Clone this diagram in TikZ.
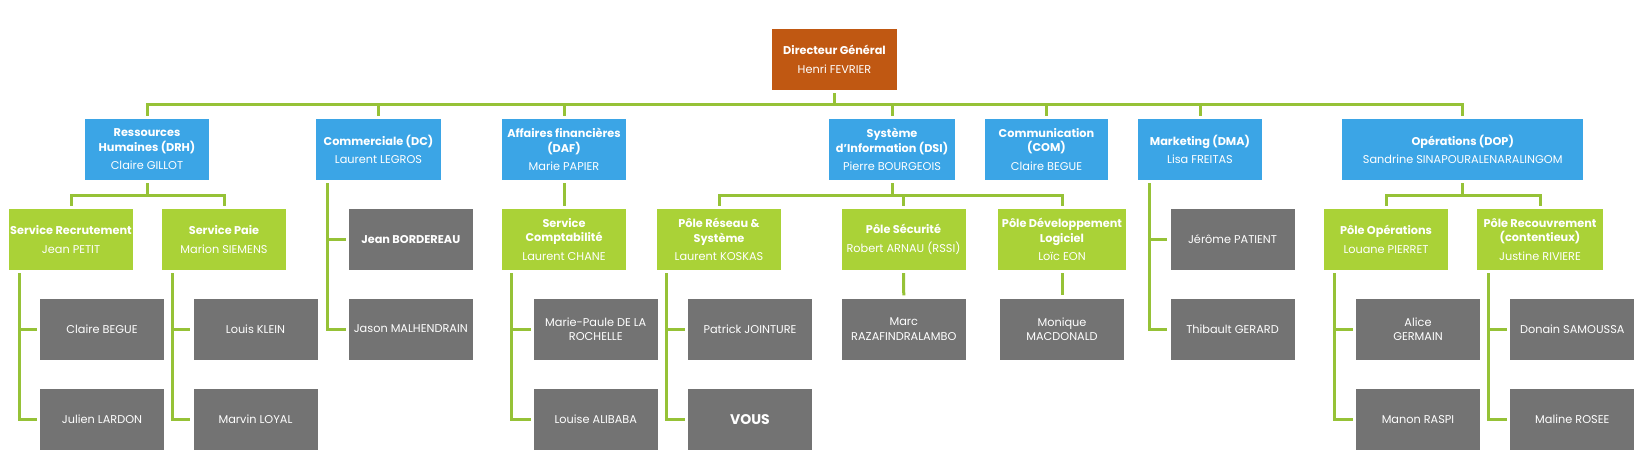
\documentclass[tikz,border=0pt]{standalone}
\usepackage{fontspec}
\setmainfont{Poppins}
\definecolor{corange}{RGB}{192,88,18}
\definecolor{cblue}{RGB}{59,165,230}
\definecolor{cgreen}{RGB}{170,210,55}
\definecolor{cgray}{RGB}{115,115,115}
\definecolor{cline}{RGB}{150,194,55}
\begin{document}
\begin{tikzpicture}[x=1pt,y=-1pt,
  box/.style={rectangle, inner sep=0pt, minimum height=61pt, minimum width=124pt, text=white, align=center, font=\fontsize{11.3}{14.5}\selectfont},
  topbox/.style={box, fill=corange, minimum width=125pt},
  dirbox/.style={box, fill=cblue},
  svcbox/.style={box, fill=cgreen},
  perbox/.style={box, fill=cgray},
  conn/.style={draw=cline, line width=3pt, shorten <=3pt, shorten >=3pt}
]
\useasboundingbox (0,0) rectangle (1642,463);
\newcommand\ttl[1]{\textbf{#1}}
% level 0
\node[topbox] (dg) at (834.5,59.5) {\ttl{Directeur Général}\\[5pt]Henri FEVRIER};
% level 1
\node[dirbox] (drh) at (147,149.5) {\ttl{Ressources}\\\ttl{Humaines (DRH)}\\[4pt]Claire GILLOT};
\node[dirbox, minimum width=125pt] (dc) at (378.5,149.5) {\ttl{Commerciale (DC)}\\[4pt]Laurent LEGROS};
\node[dirbox] (daf) at (564,149.5) {\ttl{Affaires financières}\\\ttl{(DAF)}\\[4pt]Marie PAPIER};
\node[dirbox, minimum width=126pt] (dsi) at (892,149.5) {\ttl{Système}\\\ttl{d'Information (DSI)}\\[4pt]Pierre BOURGEOIS};
\node[dirbox, minimum width=123pt] (com) at (1046.5,149.5) {\ttl{Communication}\\\ttl{(COM)}\\[4pt]Claire BEGUE};
\node[dirbox] (mkt) at (1200,149.5) {\ttl{Marketing (DMA)}\\[4pt]Lisa FREITAS};
\node[dirbox, minimum width=241.5pt] (ops) at (1462.7,149.5) {\ttl{Opérations (DOP)}\\[4pt]Sandrine SINAPOURALENARALINGOM};
% level 2
\node[svcbox] (srec) at (71,239.5) {\ttl{Service Recrutement}\\[4pt]Jean PETIT};
\node[svcbox] (spaie) at (224,239.5) {\ttl{Service Paie}\\[4pt]Marion SIEMENS};
\node[perbox] (jean) at (410.75,239.5) {\ttl{Jean BORDEREAU}};
\node[svcbox] (scompta) at (564,239.5) {\ttl{Service}\\\ttl{Comptabilité}\\[4pt]Laurent CHANE};
\node[svcbox] (preseau) at (719,239.5) {\ttl{Pôle Réseau \&}\\\ttl{Système}\\[4pt]Laurent KOSKAS};
\node[svcbox] (psecu) at (903.5,239.5) {\ttl{Pôle Sécurité}\\[4pt]Robert ARNAU (RSSI)};
\node[svcbox, minimum width=128pt] (pdev) at (1062,239.5) {\ttl{Pôle Développement}\\\ttl{Logiciel}\\[4pt]Loïc EON};
\node[perbox] (jerome) at (1232.5,239.5) {Jérôme PATIENT};
\node[svcbox] (pops) at (1386,239.5) {\ttl{Pôle Opérations}\\[4pt]Louane PIERRET};
\node[svcbox, minimum width=126pt] (precouv) at (1540,239.5) {\ttl{Pôle Recouvrement}\\\ttl{(contentieux)}\\[4pt]Justine RIVIERE};
% level 3
\node[perbox] (cbegue) at (102,329) {Claire BEGUE};
\node[perbox] (lklein) at (255.5,329) {Louis KLEIN};
\node[perbox] (jason) at (410.75,329) {Jason MALHENDRAIN};
\node[perbox] (mpaule) at (595.8,329) {Marie-Paule DE LA\\ROCHELLE};
\node[perbox] (patrick) at (750,329) {Patrick JOINTURE};
\node[perbox] (marc) at (903.8,329) {Marc\\RAZAFINDRALAMBO};
\node[perbox] (monique) at (1062,329) {Monique\\MACDONALD};
\node[perbox] (thibault) at (1232.5,329) {Thibault GERARD};
\node[perbox] (alice) at (1418,329) {Alice\\GERMAIN};
\node[perbox] (donain) at (1572.3,329) {Donain SAMOUSSA};
% level 4
\node[perbox] (jlardon) at (102,419.5) {Julien LARDON};
\node[perbox] (mloyal) at (255.5,419.5) {Marvin LOYAL};
\node[perbox] (lalibaba) at (595.8,419.5) {Louise ALIBABA};
\node[perbox, font=\fontsize{14}{16}\selectfont\bfseries] (vous) at (750,419.5) {VOUS};
\node[perbox] (mraspi) at (1418,419.5) {Manon RASPI};
\node[perbox] (mrosee) at (1572.3,419.5) {Maline ROSEE};
% connectors: top level
\foreach \c in {drh,dc,daf,dsi,com,mkt,ops}
  \draw[conn] (dg.south) -- ++(0,14) -| (\c.north);
% DRH
\foreach \c in {srec,spaie}
  \draw[conn] (drh.south) -- ++(0,15) -| (\c.north);
% DAF
\draw[conn] (daf.south) -- (scompta.north);
% DSI
\foreach \c in {preseau,psecu,pdev}
  \draw[conn] (dsi.south) -- ++(0,15) -| (\c.north);
% OPS
\foreach \c in {pops,precouv}
  \draw[conn] (ops.south) -- ++(0,15) -| (\c.north);
% side lists
\draw[conn] ([xshift=12pt]dc.south west) |- (jean.west);
\draw[conn] ([xshift=12pt]dc.south west) |- (jason.west);
\draw[conn] ([xshift=12pt]mkt.south west) |- (jerome.west);
\draw[conn] ([xshift=12pt]mkt.south west) |- (thibault.west);
\draw[conn] ([xshift=10.5pt]srec.south west) |- (cbegue.west);
\draw[conn] ([xshift=10.5pt]srec.south west) |- (jlardon.west);
\draw[conn] ([xshift=10.5pt]spaie.south west) |- (lklein.west);
\draw[conn] ([xshift=10.5pt]spaie.south west) |- (mloyal.west);
\draw[conn] ([xshift=10pt]scompta.south west) |- (mpaule.west);
\draw[conn] ([xshift=10pt]scompta.south west) |- (lalibaba.west);
\draw[conn] ([xshift=10pt]preseau.south west) |- (patrick.west);
\draw[conn] ([xshift=10pt]preseau.south west) |- (vous.west);
\draw[conn] (psecu.south) -- (marc.north);
\draw[conn] (pdev.south) -- (monique.north);
\draw[conn] ([xshift=10.5pt]pops.south west) |- (alice.west);
\draw[conn] ([xshift=10.5pt]pops.south west) |- (mraspi.west);
\draw[conn] ([xshift=12pt]precouv.south west) |- (donain.west);
\draw[conn] ([xshift=12pt]precouv.south west) |- (mrosee.west);
\end{tikzpicture}
\end{document}
